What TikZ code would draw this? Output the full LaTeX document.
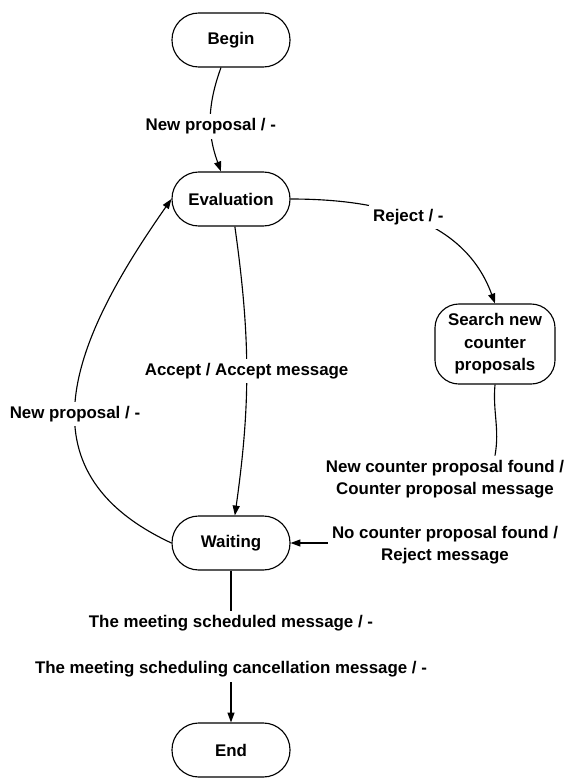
\documentclass[tikz,border=0pt]{standalone}
\usepackage{fontspec}
\setmainfont{Liberation Sans}
\usepackage{tikz}
\usetikzlibrary{arrows.meta}

\begin{document}
\begin{tikzpicture}[x=0.025cm,y=-0.025cm,
  state/.style={draw,line width=0.8pt,rounded corners=0.67cm,minimum width=2.95cm,minimum height=1.35cm,align=center,font=\bfseries\fontsize{12}{16}\selectfont},
  lbl/.style={fill=white,inner sep=3pt,align=center,font=\bfseries\fontsize{12}{15.6}\selectfont},
  tr/.style={line width=0.8pt,-{Triangle[length=7pt,width=5pt]}}]
  \useasboundingbox (0,0) rectangle (567,778);
  % states
  \node[state] (begin) at (231,40) {Begin}; \node[state] (eval) at (231,199) {Evaluation};
  \node[state,minimum width=3cm,minimum height=2cm,inner sep=1pt,rounded corners=0.6cm] (srch) at (495,344) {Search new\\counter\\proposals};
  \node[state] (wait) at (231,543) {Waiting}; \node[state] (end) at (231,750) {End};
  % transitions
  \draw[tr] (begin) to[bend right=20] node[lbl,pos=0.57]{New proposal / -} (eval);
  \draw[tr] (eval.east) to[out=0,in=110] node[lbl,pos=0.47]{Reject / -} (srch.north);
  \draw[tr] (eval) to[bend left=8] node[lbl]{Accept / Accept message} (wait);
  \draw[tr] (wait.west) to[out=155,in=235,looseness=1.28] node[lbl,pos=0.45]{New proposal / -} (eval.west);
  \node[lbl] (ncp) at (445,479) {New counter proposal found /\\Counter proposal message};
  \node[lbl] (nocp) at (445,545) {No counter proposal found /\\Reject message};
  \draw[line width=0.8pt] (srch.south) to[out=-95,in=80] (ncp.north -| srch.south);
  \draw[tr] (nocp.west |- wait.east) -- (wait.east);
  \draw[tr] (wait) -- node[lbl]{The meeting scheduled message / -\\[17pt]The meeting scheduling cancellation message / -} (end);
\end{tikzpicture}
\end{document}
